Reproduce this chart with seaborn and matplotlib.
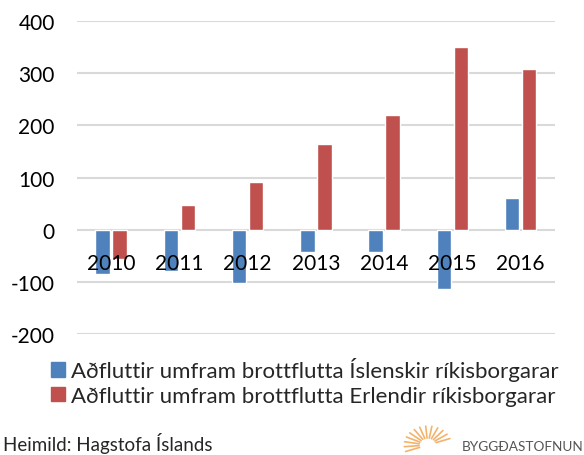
import numpy as np
import pandas as pd
import matplotlib.pyplot as plt
import seaborn as sns

years = ["2010", "2011", "2012", "2013", "2014", "2015", "2016"]
islenskir = [-85, -79, -102, -43, -43, -114, 61]
erlendir = [-57, 48, 92, 164, 219, 350, 308]
series_names = [
    "Aðfluttir umfram brottflutta Íslenskir ríkisborgarar",
    "Aðfluttir umfram brottflutta Erlendir ríkisborgarar",
]
colors = ["#4F81BD", "#C0504D"]

df = pd.DataFrame({
    "year": years * 2,
    "value": islenskir + erlendir,
    "series": [series_names[0]] * len(years) + [series_names[1]] * len(years),
})

sns.set_style("white")
plt.rcParams["font.family"] = ["Lato", "DejaVu Sans"]
plt.rcParams["axes.unicode_minus"] = False

fig = plt.figure(figsize=(5.84, 4.56), dpi=100)
ax = fig.add_axes([0.132, 0.265, 0.818, 0.687])

sns.barplot(data=df, x="year", y="value", hue="series", palette=colors, saturation=1,
            width=0.5, gap=0.15, ax=ax, legend=False, zorder=3)

ax.set_ylim(-200, 400)
ax.set_xlim(-0.5, 6.5)
yticks = list(range(-200, 401, 100))
ax.set_yticks(yticks)
for yv in yticks:
    ax.axhline(yv, color="#d9d9d9", linewidth=1.5, zorder=0)
for s in ax.spines.values():
    s.set_visible(False)
ax.spines["bottom"].set_position(("data", 0))
ax.xaxis.set_zorder(10)
ax.tick_params(axis="both", length=0, labelsize=15, colors="#000000")
ax.tick_params(axis="x", pad=17)
ax.tick_params(axis="y", pad=16)
ax.set_xlabel("")
ax.set_ylabel("")

handles = [plt.Rectangle((0, 0), 1, 1, color=c) for c in colors]
fig.legend(handles, series_names, loc="upper left", bbox_to_anchor=(0.087, 0.214),
           frameon=False, fontsize=16, handlelength=0.62, handleheight=0.62,
           handletextpad=0.3, labelspacing=0.2, borderpad=0, borderaxespad=0)

fig.text(0.005, 0.027, "Heimild: Hagstofa Íslands", fontsize=13.5, va="center", ha="left")

# logo
lax = fig.add_axes([0.69, 0.0, 0.085, 0.07])
lax.set_xlim(-1, 1)
lax.set_ylim(-1, 0.6)
lax.axis("off")
for ang in np.linspace(20, 200, 13):
    a = np.deg2rad(ang)
    lax.plot([0.35 * np.cos(a), 0.95 * np.cos(a)], [0.35 * np.sin(a) - 0.5, 0.95 * np.sin(a) - 0.5],
             color="#F3B36B", linewidth=1.2)
fig.text(0.79, 0.02, "BYGGÐASTOFNUN", fontsize=9.8, color="#555555", va="center", ha="left")

fig.savefig("out.png", dpi=100)
